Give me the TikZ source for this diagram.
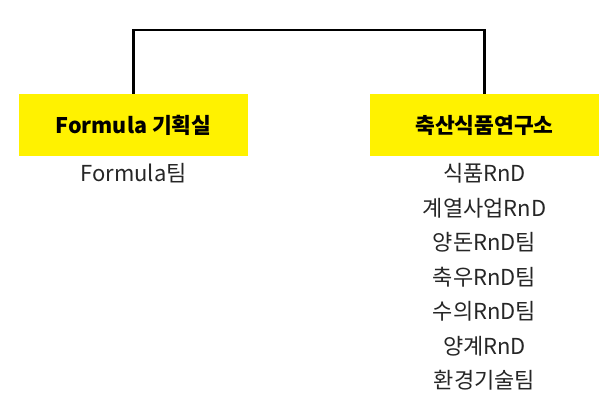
\documentclass[tikz,border=0pt]{standalone}
\usepackage{fontspec}
\setmainfont{Noto Sans CJK KR}
\usetikzlibrary{positioning}

\begin{document}
\begin{tikzpicture}[x=1pt,y=1pt,line width=2.2pt]
\tikzstyle{dept}=[fill=yellow,minimum width=229pt,minimum height=62pt,inner sep=0pt,outer sep=0pt,font=\fontsize{21.5}{24}\selectfont\bfseries]
\tikzstyle{team}=[minimum height=34.5pt,text height=18pt,text depth=1pt,inner sep=0pt,outer sep=0pt,text=black!85,font=\fontsize{22}{24}\selectfont]
\useasboundingbox (0,0) rectangle (613,413);
\node [dept] (lab) at (133.5,288) {Formula 기획실};
\node [dept] (res) at (484.5,288) {축산식품연구소};
% connector over the two departments
\draw (lab.north) -- ++(0,64) -| (res.north);
% teams
\node [team, below=0pt of lab] (f1) {Formula팀};
\node [team, below=0pt of res] (r1) {식품RnD};
\node [team, below=0pt of r1] (r2) {계열사업RnD};
\node [team, below=0pt of r2] (r3) {양돈RnD팀};
\node [team, below=0pt of r3] (r4) {축우RnD팀};
\node [team, below=0pt of r4] (r5) {수의RnD팀};
\node [team, below=0pt of r5] (r6) {양계RnD};
\node [team, below=0pt of r6] (r7) {환경기술팀};
\end{tikzpicture}
\end{document}
